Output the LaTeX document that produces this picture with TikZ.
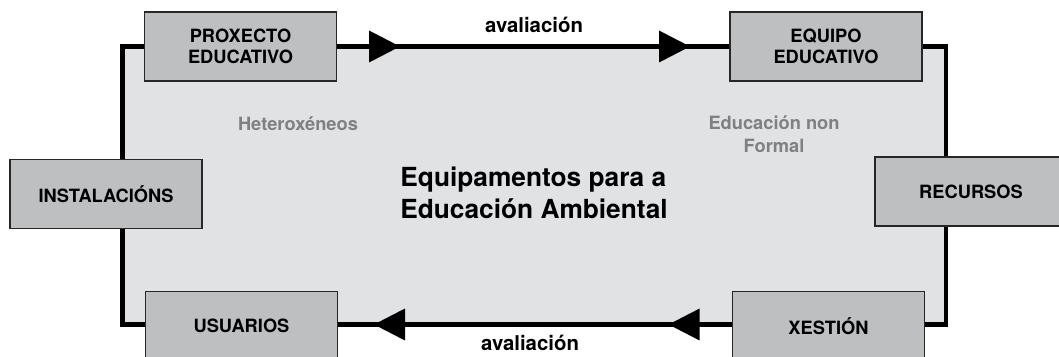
\documentclass[tikz,border=0pt]{standalone}
\usepackage{fontspec}
\setmainfont{TeX Gyre Heros}
\usetikzlibrary{arrows.meta}
\definecolor{panelgray}{HTML}{E1E2E4}
\definecolor{boxgray}{HTML}{BEBFC1}
\definecolor{notegray}{HTML}{808080}

\begin{document}
\begin{tikzpicture}[font=\bfseries,
  frame/.style={line width=3.5pt, black},
  flow/.style={line width=3.5pt, -{Triangle[length=0.775cm, width=0.8cm, line width=0pt]}},
  part/.style={draw=black!85, line width=1.1pt, fill=boxgray, minimum width=4.8cm,
    minimum height=1.72cm, inner sep=0pt, align=center,
    font=\fontsize{13}{15}\selectfont\bfseries},
  note/.style={text=notegray, align=center, font=\fontsize{13}{16.5}\selectfont\bfseries}]

  \useasboundingbox (0,0) rectangle (26.475,8.925);
  \clip (0,0) rectangle (26.475,8.925);

  % --- Frame round the centre ---
  \coordinate (tl) at (3.0625,7.7625);
  \coordinate (br) at (23.65,0.8125);
  \draw[frame, fill=panelgray] (tl) rectangle (br);

  % --- Parts sitting on the frame ---
  \node[part] (proxecto) at (6.0125,7.7625) {PROXECTO\\EDUCATIVO};
  \node[part] (equipo) at (20.65,7.7625) {EQUIPO\\EDUCATIVO};
  \node[part] (instalacions) at (2.65,4.075) {INSTALACIÓNS};
  \node[part] (recursos) at (24.275,4.1375) {RECURSOS};
  \node[part] (xestion) at (20.7125,0.78) {XESTIÓN};
  \node[part] (usuarios) at (6.0375,0.78) {USUARIOS};

  % --- Evaluation arrows along top and bottom ---
  \coordinate (upA) at (10.0,7.7625);
  \coordinate (upB) at (17.25,7.7625);
  \coordinate (downA) at (16.715,0.8125);
  \coordinate (downB) at (9.35,0.8125);
  \draw[flow] (proxecto.east) -- (upA);
  \draw[flow] (upA) -- (upB);
  \draw[flow] (xestion.west |- br) -- (downA);
  \draw[flow] (downA) -- (downB);
  \node[font=\fontsize{14.5}{17}\selectfont\bfseries] (evaltop) at (13.35,8.29) {avaliación};
  \node[font=\fontsize{14.5}{17}\selectfont\bfseries] (evalbottom) at (13.25,0.35) {avaliación};

  % --- Texts inside the frame ---
  \node[font=\fontsize{18.7}{22.8}\selectfont\bfseries, align=left] (title) at (13.35,4.1)
    {Equipamentos para a\\Educación Ambiental};
  \node[note] (hetero) at (7.45,5.825) {Heteroxéneos};
  \node[note] (nonformal) at (19.35,5.575) {Educación non\\Formal};
\end{tikzpicture}
\end{document}
